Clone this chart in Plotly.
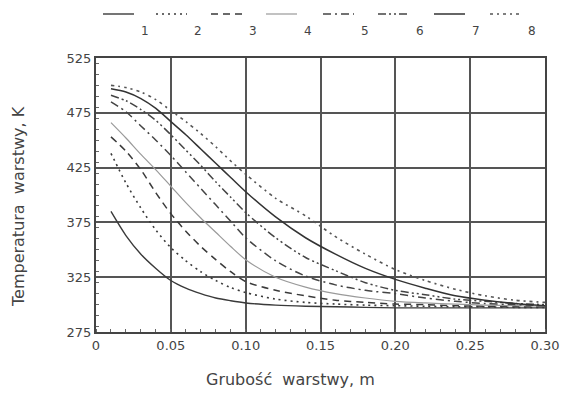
import plotly.graph_objects as go

# ---- data ----
thickness = [0.01, 0.02, 0.03, 0.04, 0.05, 0.06, 0.07, 0.08, 0.09, 0.10,
             0.12, 0.14, 0.16, 0.18, 0.20, 0.22, 0.24, 0.26, 0.28, 0.30]

curve_1 = [385, 363, 346, 333, 322, 315, 310, 306, 303.5, 301.5,
           299.5, 298.5, 298, 297.5, 297, 297, 297, 297, 297, 297]
curve_2 = [438, 411, 388, 368, 352, 340, 330, 322, 315.5, 311,
           305, 302, 300.5, 299.5, 299, 298.5, 298, 298, 297.5, 297.5]
curve_3 = [453, 440, 423, 402, 383, 367, 353, 341, 330, 321,
           313, 308, 304, 302, 300.5, 300, 299, 298.5, 298, 298]
curve_4 = [466, 452, 437, 423, 408, 393, 379, 366, 353, 341,
           325, 316, 310, 306, 303, 301.5, 300.5, 299.5, 299, 298.5]
curve_5 = [485, 476, 463, 450, 436, 421, 406, 391, 376, 361,
           340, 326, 318, 313, 310, 306, 303, 301, 300, 299]
curve_6 = [491, 486, 478, 468, 455, 441, 427, 412, 398, 384,
           361, 343, 331, 320, 313, 309, 305, 303, 301, 300]
curve_7 = [497, 494, 488, 479, 467, 455, 442, 429, 416, 403,
           380, 361, 346, 333, 323, 315, 308, 304, 301, 299]
curve_8 = [500, 498, 494, 487, 477, 467, 456, 444, 431, 419,
           397, 381, 362, 346, 332, 322, 314, 308, 304, 302]

series = [curve_1, curve_2, curve_3, curve_4, curve_5, curve_6, curve_7, curve_8]
series_names = ["1", "2", "3", "4", "5", "6", "7", "8"]

x_tickvals = [0, 0.05, 0.10, 0.15, 0.20, 0.25, 0.30]
x_ticktext = ["0", "0.05", "0.10", "0.15", "0.20", "0.25", "0.30"]
y_tickvals = [275, 325, 375, 425, 475, 525]

x_title = "Grubość  warstwy, m"
y_title = "Temperatura  warstwy, K"

# ---- styles ----
styles = [
    dict(color="#3a3a3a", width=1.4, dash="solid"),
    dict(color="#3a3a3a", width=1.6, dash="2px,4px"),
    dict(color="#3a3a3a", width=1.5, dash="7px,5px"),
    dict(color="#9a9a9a", width=1.2, dash="solid"),
    dict(color="#444444", width=1.5, dash="8px,4px,2px,4px"),
    dict(color="#444444", width=1.5, dash="8px,3px,2px,3px,2px,3px"),
    dict(color="#333333", width=1.5, dash="solid"),
    dict(color="#555555", width=1.6, dash="3px,4px,2px,4px"),
]

fig = go.Figure()
for name, ys, st in zip(series_names, series, styles):
    fig.add_trace(go.Scatter(x=thickness, y=ys, mode="lines", name=name,
                             line=dict(color=st["color"], width=st["width"],
                                       dash=st["dash"], shape="spline", smoothing=0.8),
                             showlegend=False))

# body margin removed via post_script, so figure pixels == screen pixels
W, H = 563, 395
L, T = 96, 58
R = W - 545
B = H - 332
pw, ph = W - L - R, H - T - B

def px_to_paper(px, py):
    return (px - L) / pw, (H - B - py) / ph

# custom legend (sample above, number below)
legend_num_x = [145, 198, 253, 308, 365, 420, 476, 532]
shapes = []
annotations = []
for name, st, nx in zip(series_names, styles, legend_num_x):
    x0, y0 = px_to_paper(nx - 42, 14)
    x1, _ = px_to_paper(nx - 11, 14)
    shapes.append(dict(type="line", xref="paper", yref="paper", x0=x0, x1=x1,
                       y0=y0, y1=y0,
                       line=dict(color=st["color"], width=st["width"], dash=st["dash"])))
    ax, ay = px_to_paper(nx, 31)
    annotations.append(dict(text=name, xref="paper", yref="paper", x=ax, y=ay,
                            showarrow=False, xanchor="center", yanchor="middle",
                            font=dict(size=12, color="#444", family="DejaVu Sans")))

# axis titles
tx, ty = px_to_paper(290, 379)
annotations.append(dict(text=x_title, xref="paper", yref="paper", x=tx, y=ty,
                        showarrow=False, xanchor="center", yanchor="middle",
                        font=dict(size=16, color="#444", family="DejaVu Sans")))
tx, ty = px_to_paper(19, 207)
annotations.append(dict(text=y_title, xref="paper", yref="paper", x=tx, y=ty,
                        showarrow=False, xanchor="center", yanchor="middle",
                        textangle=-90,
                        font=dict(size=16, color="#444", family="DejaVu Sans")))

axis_common = dict(showline=True, linecolor="#444", linewidth=2, mirror=True,
                   showgrid=True, gridcolor="#555", gridwidth=2,
                   zeroline=False, ticks="",
                   tickfont=dict(size=13, color="#444", family="DejaVu Sans"))

fig.update_layout(
    width=W, height=H,
    margin=dict(l=L, r=R, t=T, b=B, autoexpand=False),
    paper_bgcolor="white", plot_bgcolor="white",
    font=dict(family="DejaVu Sans", color="#444"),
    hovermode=False,
    xaxis=dict(range=[0, 0.30], tickvals=x_tickvals, ticktext=x_ticktext,
               minor=dict(dtick=0.01, ticks="inside", ticklen=3, tickcolor="#666",
                          showgrid=False),
               **axis_common),
    yaxis=dict(range=[275, 525], tickvals=y_tickvals,
               minor=dict(dtick=10, ticks="inside", ticklen=3, tickcolor="#666",
                          showgrid=False),
               **axis_common),
    shapes=shapes,
    annotations=annotations,
)

fig.write_html("out.html",
               config={"displayModeBar": False, "staticPlot": True},
               post_script="document.body.style.margin='0';document.body.style.overflow='hidden';")
